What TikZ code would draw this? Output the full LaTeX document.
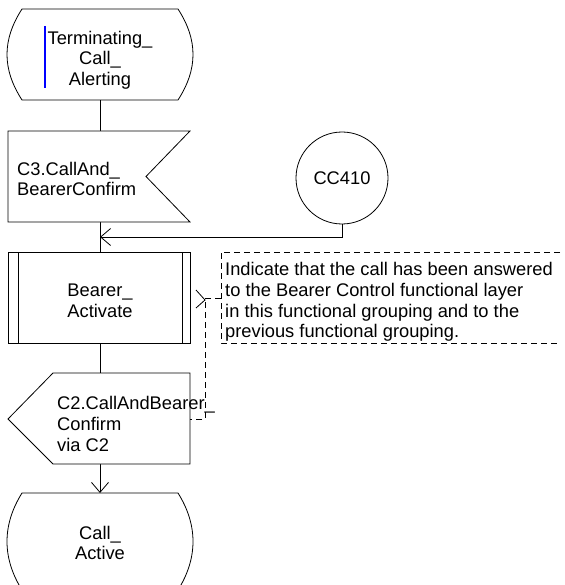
\documentclass[tikz,border=0pt]{standalone}
\usepackage{fontspec}
\setmainfont{Liberation Sans}
\usetikzlibrary{arrows.meta}
\definecolor{pureblue}{RGB}{0,0,255}
\begin{document}
\begin{tikzpicture}[x=1pt,y=-1pt,
  shp/.style={draw=black,line width=0.8pt,fill=white},
  ln/.style={draw=black,line width=0.8pt},
  arr/.style={ln,-{Straight Barb[length=10pt,width=17pt,line width=0.8pt]}},
  dsh/.style={draw=black,line width=0.8pt,dash pattern=on 6pt off 4pt},
  txt/.style={font=\fontsize{18.3}{20.7}\selectfont,inner sep=0pt},
  ctxt/.style={txt,align=center},
  ltxt/.style={txt,align=left,anchor=west}]
\useasboundingbox (0,0) rectangle (564,585);
% named points
\coordinate (s1b) at (100,100);
\coordinate (i1t) at (100,131);
\coordinate (i1b) at (100,222);
\coordinate (join) at (100,237);
\coordinate (p1t) at (100,252);
\coordinate (p1b) at (100,343);
\coordinate (o1t) at (100,373);
\coordinate (o1b) at (100,464);
\coordinate (s2t) at (100,493);
\coordinate (cmtA) at (221,298);
\coordinate (cmtB) at (205,298);
\coordinate (o1r) at (190,419);
% connectors
\draw[ln] (s1b) -- (i1t);
\draw[ln] (i1b) -- (p1t);
\draw[ln] (p1b) -- (o1t);
\draw[arr] (o1b) -- (s2t);
% top state
\draw[shp] (22,9) -- (178,9) .. controls (198,40) and (198,69) .. (178,100)
  -- (22,100) .. controls (2,69) and (2,40) .. (22,9) -- cycle;
\node[ctxt] (s1) at (100,60) {Terminating\_\\Call\_\\Alerting};
\draw[draw=pureblue,line width=1.2pt] (45,26) -- (45,88);
% input
\draw[shp] (8,131) -- (190,131) -- (146,176.5) -- (190,222) -- (8,222) -- cycle;
\node[ltxt] (i1) at (17,179) {C3.CallAnd\_\\BearerConfirm};
% connector circle
\node[shp,circle,minimum size=92pt,inner sep=0pt,font=\fontsize{18.3}{20.7}\selectfont] (cc) at (342,178) {CC410};
\draw[arr] (cc.south) |- (join);
% procedure
\draw[shp] (8,252) rectangle (190,343);
\draw[ln] (18,252) -- (18,343);
\draw[ln] (182,252) -- (182,343);
\node[ctxt] (p1) at (100,301) {Bearer\_\\Activate};
% output
\draw[shp] (53,373) -- (190,373) -- (190,464) -- (53,464) -- (8,419) -- cycle;
\node[ltxt] (o1) at (57,424) {C2.CallAndBearer\_\\Confirm\\via C2};
% final state (cut by the lower edge)
\draw[shp] (22,493) -- (178,493) .. controls (198,525) and (198,558) .. (178,590)
  -- (22,590) .. controls (2,558) and (2,525) .. (22,493) -- cycle;
\node[ctxt] (s2) at (100,543) {Call\_\\Active};
% comment
\draw[dsh] (560,252) -- (221,252) -- (221,343) -- (560,343);
\node[ltxt] (cm) at (225,302) {Indicate that the call has been answered\\to the Bearer Control functional layer\\in this functional grouping and to the\\previous functional grouping.};
\draw[dsh] (cmtA) -- (cmtB) |- (o1r);
\draw[ln] (196,290) -- (205,300) -- (196,308);
\end{tikzpicture}
\end{document}
